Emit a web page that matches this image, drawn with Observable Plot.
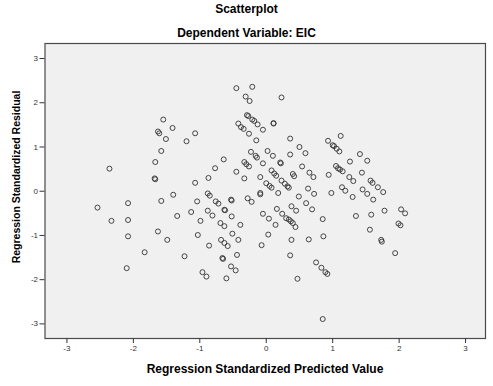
<!DOCTYPE html>
<html>
<head>
<meta charset="utf-8">
<script src="https://cdn.jsdelivr.net/npm/d3@7"></script>
<script src="https://cdn.jsdelivr.net/npm/@observablehq/plot@0.6"></script>
<style>
  html, body { margin: 0; padding: 0; background: #fff; }
  #wrap { position: relative; width: 493px; height: 386px; overflow: hidden; font-family: "Liberation Sans", Arial, sans-serif; }
  #wrap svg { position: absolute; left: 0; top: 0; }
  .lbl { position: absolute; font-weight: bold; color: #000; white-space: nowrap; text-align: center; }
</style>
</head>
<body>
<div id="wrap">
  <div class="lbl" id="title" style="left:0;width:493px;top:2px;font-size:12px;line-height:14px;"></div>
  <div class="lbl" id="subtitle" style="left:0;width:493px;top:26px;font-size:12px;line-height:14px;"></div>
  <div class="lbl" id="xlabel" style="left:65px;width:400px;top:362px;font-size:12px;line-height:14px;"></div>
  <div class="lbl" id="ylabel" style="left:-184px;width:400px;top:170px;font-size:10.5px;line-height:14px;transform:rotate(-90deg);"></div>
</div>
<script>
const titleText = "Scatterplot";
const subtitleText = "Dependent Variable: EIC";
const xLabelText = "Regression Standardized Predicted Value";
const yLabelText = "Regression Standardized Residual";
const xTicks = [-3, -2, -1, 0, 1, 2, 3];
const yTicks = [-3, -2, -1, 0, 1, 2, 3];

const predicted = [
  -2.54, -2.36, -2.33, -2.08, -2.08, -2.08, -2.10, -1.83, -1.67, -1.68,
  -1.67, -1.63, -1.61, -1.58, -1.55, -1.51, -1.41, -1.20, -1.07, -1.07,
  -1.40, -1.58, -1.34, -1.13, -1.63, -1.49, -1.23, -1.04, -1.03,
  -0.88, -0.85, -0.76, -0.72, -0.53, -0.52, -0.28, -0.22, -0.09, -0.88,
  -0.81, -0.63, -0.62, -0.99, -0.52, -0.69, -0.63, -0.39, -0.51, -0.68,
  -0.63, -0.58, -0.42, -0.86, -0.66, -0.65, -0.44, -0.53, -0.46, -0.96,
  -0.90, -0.60,
  -0.45, -0.21, -0.31, -0.25, -0.29, -0.27, -0.21, -0.18, -0.13, -0.42,
  -0.38, -0.34, -0.26, -0.05, -0.15, -0.23, -0.16, -0.14, -0.64, -0.33,
  -0.30, -0.26, -0.77, -0.45, -0.87, -0.33,
  0.23, 0.11, 0.11, 0.02, 0.10, -0.05, 0.21, 0.22, 0.08, 0.12,
  0.15, -0.09, 0.23, 0.00, 0.05, 0.08, 0.28, 0.32, 0.34, -0.09,
  0.18, 0.36, 0.36, 0.40, 0.42, 0.49, -0.05, 0.04, 0.14, 0.16,
  0.24, 0.30, 0.34, 0.37, 0.40, 0.44, 0.38, 0.45, 0.03, -0.07,
  0.38, 0.36, 0.47,
  0.50, 0.59, 0.54, 0.65, 0.71, 0.63, 0.72, 0.60, 0.69, 0.64,
  0.85, 0.86, 0.75, 0.83, 0.89, 0.92, 0.85, 0.93, 1.00, 1.02,
  1.06, 1.10, 1.12, 0.94, 1.05, 1.08, 1.11, 1.15, 0.98, 1.14,
  1.19,
  1.30, 1.26, 1.41, 1.52, 1.44, 1.25, 1.31, 1.57, 1.60, 1.68,
  1.76, 1.45, 1.52, 1.61, 1.35, 1.58, 1.78, 2.03, 2.09, 1.99,
  2.02, 1.56, 1.73, 1.74, 1.94
];
const residual = [
  -0.37, 0.51, -0.67, -0.27, -0.65, -1.02, -1.74, -1.38, 0.66, 0.29,
  0.27, 1.35, 1.31, 0.91, 1.62, 1.18, 1.43, 1.13, 1.31, 0.19,
  -0.08, -0.22, -0.56, -0.47, -0.91, -1.10, -1.47, -0.23, -0.99,
  -0.05, -0.10, -0.23, -0.28, -0.19, -0.21, -0.16, -0.24, -0.07, -0.44,
  -0.55, -0.42, -0.43, -0.67, -0.57, -0.72, -0.79, -0.76, -0.96, -1.10,
  -1.17, -1.24, -1.10, -1.23, -1.51, -1.53, -1.44, -1.70, -1.79, -1.83,
  -1.93, -1.97,
  2.33, 2.36, 2.14, 2.04, 1.72, 1.70, 1.62, 1.59, 1.51, 1.53,
  1.45, 1.41, 1.30, 1.39, 1.15, 0.89, 0.80, 0.76, 0.72, 0.66,
  0.61, 0.56, 0.52, 0.44, 0.30, 0.29,
  2.12, 1.54, 1.53, 0.91, 0.80, 0.63, 0.65, 0.63, 0.47, 0.40,
  0.35, 0.32, 0.24, 0.18, 0.12, 0.08, 0.17, 0.11, 0.08, -0.04,
  -0.04, 1.19, 0.83, 0.39, 0.34, -0.12, -0.51, -0.62, -0.76, -0.40,
  -0.51, -0.61, -0.64, -0.68, -0.72, -0.81, -0.34, -0.44, -0.98, -1.22,
  -1.10, -1.45, -1.98,
  1.00, 0.86, 0.56, 0.42, 0.32, 0.06, -0.06, -0.27, -0.41, -1.09,
  -0.63, -1.02, -1.61, -1.73, -1.83, -1.87, -2.89, 1.14, 1.04, 1.02,
  0.96, 0.90, 1.25, 0.37, 0.57, 0.52, 0.49, 0.45, -0.04, 0.09,
  0.01,
  -0.13, 0.67, 0.84, 0.69, 0.42, 0.32, 0.23, 0.24, 0.19, 0.09,
  -0.02, 0.04, -0.06, -0.19, -0.56, -0.53, -0.44, -0.41, -0.50, -0.73,
  -0.77, -0.87, -1.10, -1.14, -1.40
];

const data = predicted.map((p, i) => ({x: p, y: residual[i]}));

document.getElementById("title").textContent = titleText;
document.getElementById("subtitle").textContent = subtitleText;
document.getElementById("xlabel").textContent = xLabelText;
document.getElementById("ylabel").textContent = yLabelText;

const chart = Plot.plot({
  width: 493,
  height: 386,
  marginLeft: 44.5,
  marginRight: 8,
  marginTop: 43,
  marginBottom: 48,
  style: {background: "transparent", fontFamily: "Liberation Sans, Arial, sans-serif"},
  x: {domain: [-3.33, 3.30]},
  y: {domain: [-3.33, 3.34]},
  marks: [
    Plot.frame({fill: "#f0f0f0", stroke: "none"}),
    Plot.dot(data, {x: "x", y: "y", r: 2.5, stroke: "#333", strokeWidth: 0.9, fill: "none"}),
    Plot.frame({stroke: "#4a4a4a", strokeWidth: 1.2}),
    Plot.axisX({ticks: xTicks, tickFormat: d => String(d), tickSize: 5, tickPadding: 2, fontSize: 8, color: "#333", label: null}),
    Plot.axisY({ticks: yTicks, tickFormat: d => String(d), tickSize: 5, tickPadding: 2, fontSize: 8, color: "#333", label: null})
  ]
});
document.getElementById("wrap").appendChild(chart);
</script>
</body>
</html>
